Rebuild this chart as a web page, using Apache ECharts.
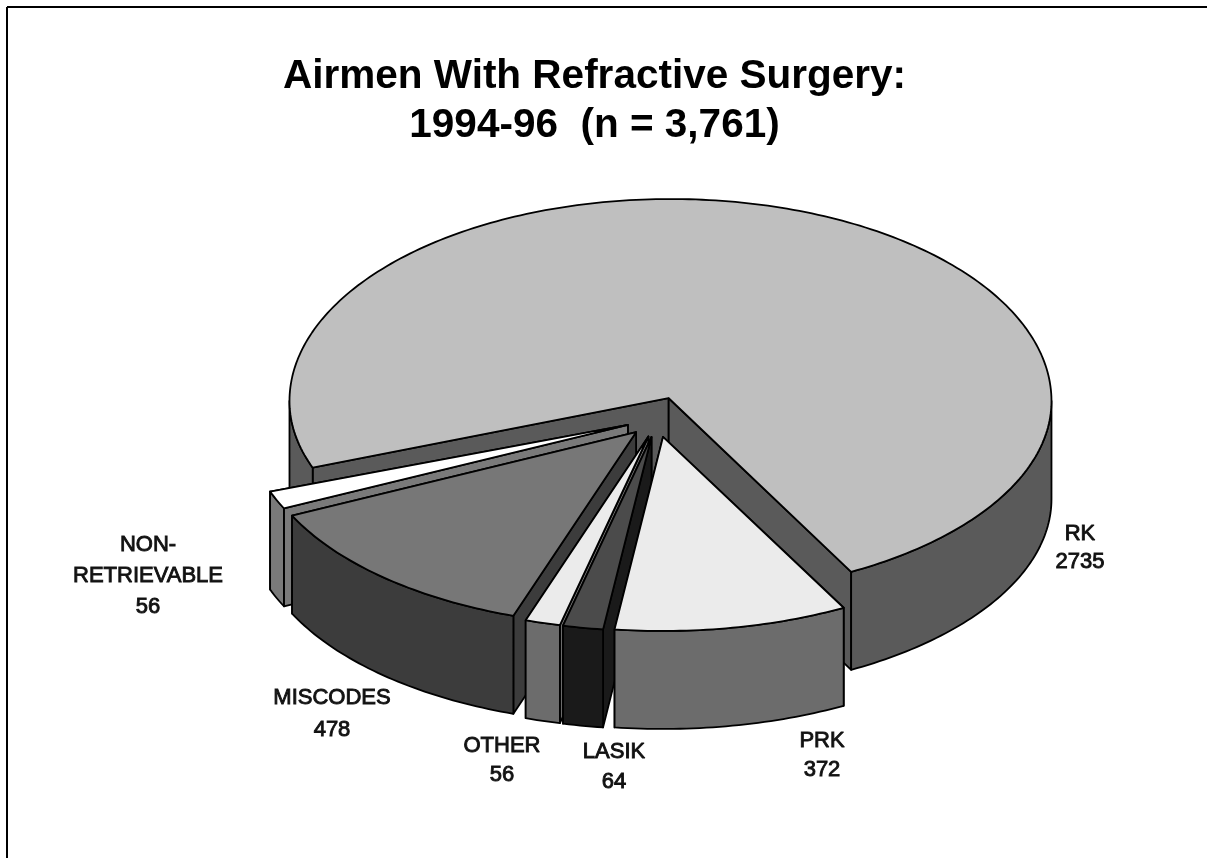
<!DOCTYPE html>
<html>
<head>
<meta charset="utf-8">
<title>Airmen With Refractive Surgery</title>
<script src="https://cdn.jsdelivr.net/npm/echarts@6/dist/echarts.min.js"></script>
<style>
  html, body { margin: 0; padding: 0; background: #fff; }
  #chart { width: 1207px; height: 858px; }
</style>
</head>
<body>
<div id="chart"></div>
<script>
// data, clockwise on screen starting from the big slice
const categories = ['RK', 'PRK', 'LASIK', 'OTHER', 'MISCODES', 'NON-\nRETRIEVABLE']
const values = [2735, 372, 64, 56, 478, 56]

// styles, same order as categories: top face, outer wall, cut wall
const topColors = ['#bfbfbf', '#ebebeb', '#4b4b4b', '#ebebeb', '#777777', '#ffffff']
const wallColors = ['#5a5a5a', '#6c6c6c', '#1a1a1a', '#6c6c6c', '#3c3c3c', '#7a7a7a']
// label centre x, y, line height
const labelLayout = [
  [1080, 548, 28],
  [822, 755, 29],
  [614, 767, 30],
  [502, 760, 29],
  [332, 714, 32],
  [148, 576, 31],
]

// the tilted disc
const centerX = 657.2
const centerY = 417
const radiusX = 381
const radiusY = 199
const radiusYFront = 194 // front edge is a bit flatter, perspective of the original
const radiusYBack = 202
const bigArcShiftX = 2 // the big slice's rim sits slightly off its apex
const bigArcShiftY = 3
const depth = 98
const explodeX = 0.0834
const explodeY = 0.102
const startAngle = -200.1 // degrees, clockwise from east

// back to front, so the nearer slices paint over the others
const drawOrder = [0, 5, 4, 3, 2, 1]

const total = values.reduce((a, b) => a + b, 0)
const angleStarts = []
values.reduce((acc, v, i) => {
  angleStarts[i] = acc
  return acc + (v / total) * 360
}, startAngle)

const rad = (d) => (d * Math.PI) / 180

function arcPoints(cx, cy, a0, a1, dz) {
  const pts = []
  const n = Math.max(2, Math.ceil(Math.abs(a1 - a0)))
  for (let k = 0; k <= n; k++) {
    const a = rad(a0 + ((a1 - a0) * k) / n)
    const s = Math.sin(a)
    pts.push([cx + radiusX * Math.cos(a), cy + (s > 0 ? radiusYFront : radiusYBack) * s + dz])
  }
  return pts
}

function poly(points, fill) {
  return {
    type: 'polygon',
    shape: { points: points },
    style: { fill: fill, stroke: '#000', lineWidth: 1.8, lineJoin: 'round' },
  }
}

function renderSlice(params, api) {
  const i = api.value(1)
  const a0 = angleStarts[i]
  const a1 = a0 + (api.value(0) / total) * 360
  const mid = rad((a0 + a1) / 2)
  const cx = centerX + Math.cos(mid) * radiusX * explodeX
  const cy = centerY + Math.sin(mid) * radiusY * explodeY
  // rim centre, only the big slice differs from its apex
  const rx = i === 0 ? cx + bigArcShiftX : cx
  const ry = i === 0 ? cy + bigArcShiftY : cy
  const children = []

  // cut walls, the far one first so its bottom edge does not show through
  ;[a1, a0].forEach((a) => {
    const t = arcPoints(rx, ry, a, a, 0)[0]
    children.push(poly([[cx, cy], t, [t[0], t[1] + depth], [cx, cy + depth]], wallColors[i]))
  })

  // outer wall, only the part that faces the viewer (sin > 0)
  const first = Math.floor(a0 / 360) - 1
  for (let turn = first; turn <= first + 3; turn++) {
    const from = Math.max(a0, turn * 360)
    const to = Math.min(a1, turn * 360 + 180)
    if (to > from) {
      const up = arcPoints(rx, ry, from, to, 0)
      const down = arcPoints(rx, ry, from, to, depth).reverse()
      children.push(poly(up.concat(down), wallColors[i]))
    }
  }

  // top face
  children.push(poly([[cx, cy]].concat(arcPoints(rx, ry, a0, a1, 0)), topColors[i]))

  // label
  const lay = labelLayout[i]
  children.push({
    type: 'text',
    style: {
      text: categories[i] + '\n' + api.value(0),
      x: lay[0],
      y: lay[1],
      fill: '#111',
      stroke: '#111',
      lineWidth: 0.9,
      fontFamily: '"Liberation Sans", Arial, sans-serif',
      fontSize: 22,
      align: 'center',
      verticalAlign: 'middle',
      lineHeight: lay[2],
    },
  })
  return { type: 'group', children: children }
}

const chart = echarts.init(document.getElementById('chart'))
chart.setOption({
  animation: false,
  backgroundColor: '#fff',
  title: {
    text: 'Airmen With Refractive Surgery:\n1994-96  (n = 3,761)',
    left: 589.5,
    top: 47,
    textAlign: 'center',
    textStyle: {
      color: '#000',
      fontFamily: '"Liberation Sans", Arial, sans-serif',
      fontWeight: 'bold',
      fontSize: 40.5,
      lineHeight: 49,
    },
  },
  graphic: [
    { type: 'line', shape: { x1: 7, y1: 7, x2: 1207, y2: 7 }, style: { stroke: '#000', lineWidth: 2 } },
    { type: 'line', shape: { x1: 7, y1: 7, x2: 7, y2: 858 }, style: { stroke: '#000', lineWidth: 2 } },
  ],
  series: [
    {
      type: 'custom',
      coordinateSystem: 'none',
      silent: true,
      renderItem: renderSlice,
      data: drawOrder.map((i) => ({ name: categories[i], value: [values[i], i] })),
    },
  ],
})
</script>
</body>
</html>
